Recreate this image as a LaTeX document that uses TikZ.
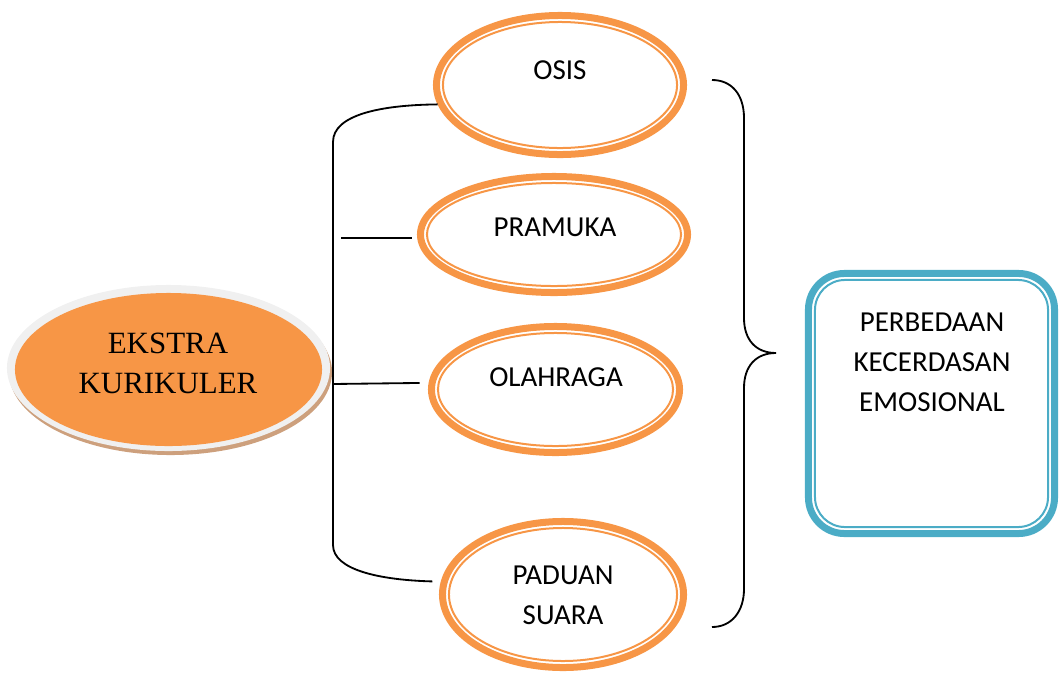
\documentclass[tikz,border=0pt]{standalone}
\usepackage{fontspec}
\setmainfont{Liberation Serif}
\newfontfamily\calibri{Carlito}
\usetikzlibrary{shapes.geometric, calc}
\definecolor{ringorange}{RGB}{247,150,70}
\definecolor{boxblue}{RGB}{75,172,198}
\definecolor{rimgray}{RGB}{240,240,240}
\definecolor{shadowtan}{RGB}{205,160,125}

\begin{document}
\begin{tikzpicture}[x=0.025cm, y=-0.025cm,
  ringout/.style={ellipse, draw=ringorange, line width=0.175cm, inner sep=0pt},
  ringin/.style={ellipse, draw=ringorange, line width=0.05cm, inner sep=0pt},
  lbl/.style={font=\calibri\fontsize{20.6}{28.4}\selectfont, align=center, inner sep=0pt},
  link/.style={black, line width=1.3pt}]
  \useasboundingbox (0,0) rectangle (1060,672);

  % Left bubble
  \node[ellipse, fill=shadowtan, minimum width=8.075cm, minimum height=4.15cm, inner sep=0pt] (ekshadow) at (170.5,372) {};
  \node[ellipse, fill=rimgray, minimum width=8.075cm, minimum height=4.15cm, inner sep=0pt] (ekrim) at (168.5,368) {};
  \node[ellipse, fill=ringorange, minimum width=7.675cm, minimum height=3.825cm, inner sep=0pt] (ekstra) at (168.5,369.5) {};
  \node[font=\fontsize{22}{28.4}\selectfont, align=center, inner sep=0pt] (ekstratxt) at (168,363) {EKSTRA\\KURIKULER};

  % Orange rings
  \node[ringout, minimum width=6.175cm, minimum height=3.475cm] (osis) at (560,85) {};
  \node[ringin, minimum width=5.85cm, minimum height=3.15cm] (osisin) at (osis.center) {};
  \node[lbl] (osistxt) at (560,70) {OSIS};

  \node[ringout, minimum width=6.675cm, minimum height=2.9cm] (pramuka) at (554,234.5) {};
  \node[ringin, minimum width=6.35cm, minimum height=2.575cm] (pramukain) at (pramuka.center) {};
  \node[lbl] (pramukatxt) at (555,227) {PRAMUKA};

  \node[ringout, minimum width=6.2cm, minimum height=3.15cm] (olahraga) at (555.5,389.5) {};
  \node[ringin, minimum width=5.875cm, minimum height=2.825cm] (olahragain) at (olahraga.center) {};
  \node[lbl] (olahragatxt) at (556,377) {OLAHRAGA};

  \node[ringout, minimum width=6.025cm, minimum height=3.65cm] (paduan) at (563,594.5) {};
  \node[ringin, minimum width=5.7cm, minimum height=3.325cm] (paduanin) at (paduan.center) {};
  \node[lbl] (paduantxt) at (563,595) {PADUAN\\SUARA};

  % Blue box
  \node[rectangle, rounded corners=0.9cm, draw=boxblue, line width=0.175cm, minimum width=6.15cm, minimum height=6.5cm, inner sep=0pt] (perbedaan) at (931.5,403.5) {};
  \node[rectangle, rounded corners=0.75cm, draw=boxblue, line width=0.05cm, minimum width=5.825cm, minimum height=6.175cm, inner sep=0pt] (perbedaanin) at (perbedaan.center) {};
  \node[lbl] (perbedaantxt) at (932,362) {PERBEDAAN\\KECERDASAN\\EMOSIONAL};

  % Bracket on the left
  \coordinate (spinetop) at (333,142);
  \coordinate (spinebot) at (333,545);
  \draw[link, shorten >=6pt] (osis.189) .. controls (380,105) and (333,115) .. (spinetop)
    -- (spinebot) .. controls (333,570) and (380,580) .. (paduan.174);
  \coordinate (pk) at (341,238);
  \draw[link, shorten >=3.6pt] (pk) -- (pk -| pramuka.west);
  \coordinate (ol) at (333,384);
  \draw[link, shorten >=6.4pt] (ol) -- (olahraga.177);

  % Brace on the right
  \coordinate (bracetip) at (776,353);
  \draw[link] (712,80) .. controls (732,80) and (744,95) .. (744,118)
    -- (744,318) .. controls (744,340) and (756,353) .. (bracetip)
    .. controls (756,353) and (744,366) .. (744,388)
    -- (744,589) .. controls (744,611) and (732,627) .. (712,627);
\end{tikzpicture}
\end{document}
